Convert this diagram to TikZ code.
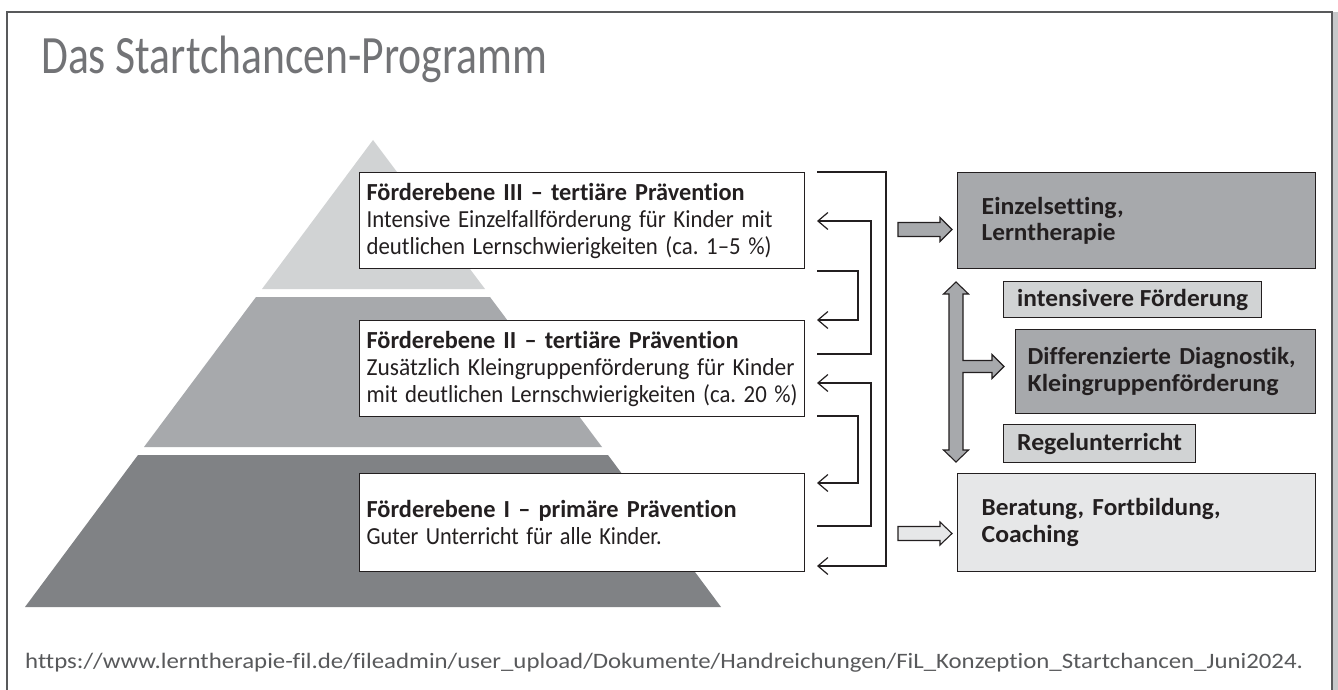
\documentclass[tikz,border=0pt]{standalone}
\usepackage{fontspec}
\usepackage{graphicx}
\setmainfont{Carlito}[Ligatures={NoCommon}]
\frenchspacing
\usetikzlibrary{arrows.meta,calc}
\definecolor{tierTop}{HTML}{D1D3D4}
\definecolor{tierMid}{HTML}{A7A9AC}
\definecolor{tierLow}{HTML}{808285}
\definecolor{paleFill}{HTML}{E6E7E8}
\definecolor{inkCol}{HTML}{231F20}
\definecolor{frameCol}{HTML}{58595B}
\definecolor{titleCol}{HTML}{727376}
\definecolor{shadowCol}{HTML}{C7C8CA}
\newlength\fitlen
\newcommand\fitw[2]{\settowidth\fitlen{#2}\pgfmathsetmacro\fitfac{#1/\fitlen}\scalebox{\fitfac}[1]{#2}}
\tikzset{
  levelbox/.style={draw=inkCol, line width=1.2pt, fill=white, anchor=north west,
    minimum height=96pt, text width=431pt, inner xsep=7pt, inner ysep=0pt, align=left,
    font=\fontsize{24.5}{27}\selectfont, text=inkCol},
  offerbox/.style={draw=inkCol, line width=1.3pt, anchor=north west, inner ysep=0pt,
    font=\fontsize{24.5}{27}\selectfont\bfseries, text=inkCol},
  bracket/.style={draw=inkCol, line width=1.2pt},
  backarrow/.style={bracket, -{Straight Barb[length=10pt,width=17pt]}},
  fatarrow/.style={draw=inkCol, line width=1.1pt}
}
\begin{document}
\begin{tikzpicture}[x=1pt,y=-1pt]
\useasboundingbox (0,0) rectangle (1338,690);
\fill[white] (0,0) rectangle (1338,690);
\fill[shadowCol] (1333,12) rectangle (1338,690);
\draw[frameCol, line width=1.5pt] (7,700) -- (7,12) -- (1332,12) -- (1332,700);

% title
\node[anchor=base west, inner sep=0pt, text=titleCol, font=\fontsize{54}{60}\selectfont] (title) at (41,74) {\fitw{506}{Das Startchancen-Programm}};

% pyramid
\fill[tierTop] (373,140) -- (485,289) -- (262,289) -- cycle;
\fill[tierMid] (256,297) -- (490,297) -- (602,447) -- (144,447) -- cycle;
\fill[tierLow] (138,455) -- (608,455) -- (721,607) -- (25,607) -- cycle;

% level boxes
\node[levelbox] (lv3) at (359,172) {\textbf{\fitw{378}{Förderebene III – tertiäre Prävention}}\\
  \fitw{406}{Intensive Einzelfallförderung für Kinder mit}\\
  \fitw{405}{deutlichen Lernschwierigkeiten (ca. 1–5 \%)}};
\node[levelbox] (lv2) at (359,320) {\textbf{\fitw{372}{Förderebene II – tertiäre Prävention}}\\
  \fitw{428}{Zusätzlich Kleingruppenförderung für Kinder}\\
  \fitw{431}{mit deutlichen Lernschwierigkeiten (ca. 20 \%)}};
\node[levelbox, minimum height=98pt] (lv1) at (359,473) {\textbf{\fitw{370}{Förderebene I – primäre Prävention}}\\
  \fitw{295}{Guter Unterricht für alle Kinder.}};

% brackets
\coordinate (oS) at (817,172); \coordinate (oE) at (817,566);
\coordinate (aS) at (817,354); \coordinate (aE) at (817,221);
\coordinate (bS) at (817,271); \coordinate (bE) at (817,320);
\coordinate (cS) at (817,526); \coordinate (cE) at (817,383);
\coordinate (dS) at (817,416); \coordinate (dE) at (817,483);
\draw[backarrow] (oS) -- ++(69,0) |- (oE);
\draw[backarrow] (aS) -- ++(54,0) |- (aE);
\draw[backarrow] (bS) -- ++(41,0) |- (bE);
\draw[backarrow] (cS) -- ++(54,0) |- (cE);
\draw[backarrow] (dS) -- ++(41,0) |- (dE);

% offer boxes
\node[offerbox, fill=tierMid, minimum height=96pt, text width=310pt, inner xsep=24pt, align=left,
  font=\fontsize{24.5}{25.5}\selectfont\bfseries] (einzel) at (957,172)
  {\fitw{142}{Einzelsetting,}\\\fitw{134}{Lerntherapie}};
\node[offerbox, fill=tierTop, minimum width=258pt, minimum height=36pt, inner xsep=0pt, align=center] (intens) at (1003,281)
  {\fitw{231}{intensivere Förderung}};
\node[offerbox, fill=tierMid, minimum height=84pt, text width=276pt, inner xsep=12pt, align=left] (diff) at (1015,329)
  {\fitw{268}{Differenzierte Diagnostik,}\\\fitw{251}{Kleingruppenförderung}};
\node[offerbox, fill=tierTop, minimum width=192pt, minimum height=38pt, inner xsep=0pt, align=center] (regel) at (1003,424)
  {\fitw{165}{Regelunterricht}};
\node[offerbox, fill=paleFill, minimum height=98pt, text width=310pt, inner xsep=24pt, align=left] (berat) at (957,473)
  {\fitw{239}{Beratung, Fortbildung,}\\\fitw{97}{Coaching}};

% fat arrows
\fill[tierMid, fatarrow] (898,222.5) -- (940,222.5) -- (940,217.5) -- (952,229.5) -- (940,241.5) -- (940,236.5) -- (898,236.5) -- cycle;
\fill[paleFill, fatarrow] (898,526.5) -- (940,526.5) -- (940,522) -- (952,533.5) -- (940,545) -- (940,540.5) -- (898,540.5) -- cycle;
\fill[tierMid, fatarrow] (956,282) -- (968.5,294) -- (963,294) -- (963,360.5) -- (992,360.5) -- (992,354.5) -- (1004,366.5)
  -- (992,378.5) -- (992,372.5) -- (963,372.5) -- (963,450) -- (968.5,450) -- (956,462) -- (943.5,450) -- (949,450)
  -- (949,294) -- (943.5,294) -- cycle;

% source
\node[anchor=base west, inner sep=0pt, text=frameCol, font=\fontsize{22}{25}\selectfont] (src) at (25,668)
  {\fitw{1278}{https://www.lerntherapie-fil.de/fileadmin/user\_upload/Dokumente/Handreichungen/FiL\_Konzeption\_Startchancen\_Juni2024.}};
\end{tikzpicture}
\end{document}
